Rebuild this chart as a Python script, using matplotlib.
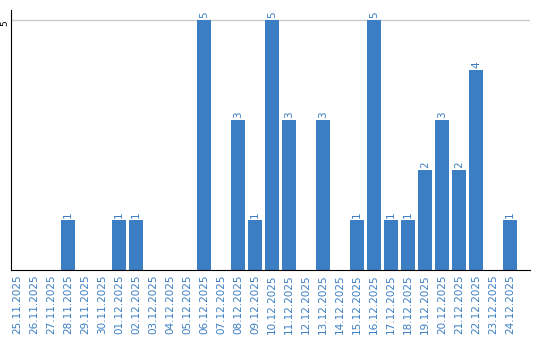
import matplotlib
matplotlib.use("Agg")
import matplotlib.pyplot as plt
import numpy as np

# daily counts, 25.11.2025 - 24.12.2025
dates = ["25.11.2025", "26.11.2025", "27.11.2025", "28.11.2025", "29.11.2025",
         "30.11.2025", "01.12.2025", "02.12.2025", "03.12.2025", "04.12.2025",
         "05.12.2025", "06.12.2025", "07.12.2025", "08.12.2025", "09.12.2025",
         "10.12.2025", "11.12.2025", "12.12.2025", "13.12.2025", "14.12.2025",
         "15.12.2025", "16.12.2025", "17.12.2025", "18.12.2025", "19.12.2025",
         "20.12.2025", "21.12.2025", "22.12.2025", "23.12.2025", "24.12.2025"]
counts = [0, 0, 0, 1, 0, 0, 1, 1, 0, 0, 0, 5, 0, 3, 1,
          5, 3, 0, 3, 0, 1, 5, 1, 1, 2, 3, 2, 4, 0, 1]
yticks = [5]

blue = "#3b7ec3"

fig = plt.figure(figsize=(5.4, 3.4), dpi=100)
ax = fig.add_axes([0.0204, 0.2059, 0.9611, 0.7647])

x = np.arange(len(dates))
ax.bar(x, counts, width=0.82, color=blue, zorder=2)

for xi, c in zip(x, counts):
    if c > 0:
        ax.text(xi, c + 0.04, str(c), rotation=90, ha="center", va="bottom",
                color=blue, fontsize=7.5)

ax.set_xlim(-0.35, 30.18)
ax.set_ylim(0, 5.2)
ax.set_yticks(yticks)
ax.set_yticklabels([str(t) for t in yticks], rotation=90, va="top", fontsize=6.5)
ax.yaxis.grid(True, color="#cccccc", linewidth=1, zorder=0)
ax.set_xticks(x)
ax.set_xticklabels(dates, rotation=90, color=blue, fontsize=7.5)
ax.tick_params(axis="x", length=0, pad=3)
ax.tick_params(axis="y", length=0, pad=1)

for s in ["top", "right"]:
    ax.spines[s].set_visible(False)
ax.spines["left"].set_color("black")
ax.spines["bottom"].set_color("black")

fig.savefig("out.png", dpi=100)
